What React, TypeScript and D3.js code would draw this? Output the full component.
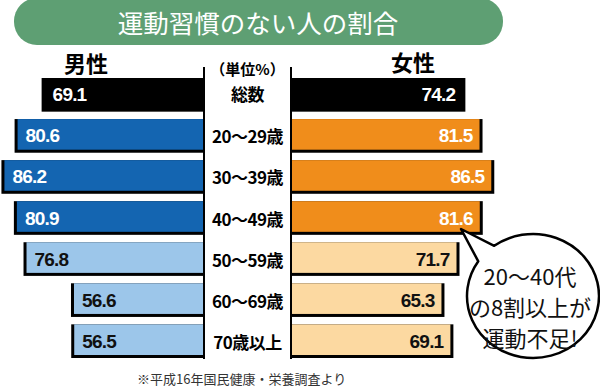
import React from "react";
import * as d3 from "d3";

const width = 600;
const height = 387;

// data (percent)
const categories = ["総数", "20〜29歳", "30〜39歳", "40〜49歳", "50〜59歳", "60〜69歳", "70歳以上"];
const maleValues = [69.1, 80.6, 86.2, 80.9, 76.8, 56.6, 56.5];
const femaleValues = [74.2, 81.5, 86.5, 81.6, 71.7, 65.3, 69.1];
const bubbleLines = ["20〜40代", "の8割以上が", "運動不足!"];

const title = "運動習慣のない人の割合";
const unitLabel = "（単位%）";
const note = "※平成16年国民健康・栄養調査より";

const leftAxisX = 204;
const rightAxisX = 291;
const centerX = (leftAxisX + rightAxisX) / 2;
const jpFont = "'Noto Sans CJK JP', 'Noto Sans', sans-serif";
const numFont = "'Liberation Sans', Arial, sans-serif";

const maleColor = (i: number) => (i === 0 ? "#000000" : i <= 3 ? "#1465b1" : "#9cc6ea");
const femaleColor = (i: number) => (i === 0 ? "#000000" : i <= 3 ? "#f08d1b" : "#fcd9a1");
const textColor = (i: number) => (i <= 3 ? "#ffffff" : "#111111");

function Bubble() {
  const cx = 533, cy = 296, rx = 66, ry = 62;
  const pt = (deg: number) => {
    const a = (deg * Math.PI) / 180;
    return [cx + rx * Math.cos(a), cy + ry * Math.sin(a)];
  };
  const a = pt(234);
  const b = pt(214);
  const tip = [461, 229];
  const d = `M${a[0]},${a[1]} A${rx},${ry} 0 1 1 ${b[0]},${b[1]} L${tip[0]},${tip[1]} Z`;
  return (
    <g>
      <path d={d} fill="#fff" stroke="#000" strokeWidth={2.5} strokeLinejoin="round" />
      {bubbleLines.map((t, i) => (
        <text
          key={i}
          x={cx - 3}
          y={275 + i * 31}
          textAnchor="middle"
          dominantBaseline="central"
          fontFamily={jpFont}
          fontSize={22}
          fill="#111"
        >
          {t}
        </text>
      ))}
    </g>
  );
}

export default function App() {
  const x = d3.scaleLinear().domain([0, 100]).range([0, 235]);
  const y = d3
    .scaleBand<string>()
    .domain(categories)
    .range([78, 358])
    .paddingInner(0.18)
    .paddingOuter(0);
  const bh = y.bandwidth();
  const edge = 3;

  return (
    <svg width={width} height={height} style={{ position: "absolute", left: 0, top: 0, background: "#fff" }}>
      {/* title pill */}
      <rect x={14} y={-2} width={489} height={47} rx={23} fill="#5e9f73" />
      <text
        x={258}
        y={21}
        textAnchor="middle"
        dominantBaseline="central"
        fontFamily={jpFont}
        fontSize={25.5}
        fill="#fff"
      >
        {title}
      </text>

      {/* headers */}
      <text x={86} y={62} textAnchor="middle" dominantBaseline="central" fontFamily={jpFont} fontWeight={700} fontSize={22} fill="#000">
        男性
      </text>
      <text x={413} y={61} textAnchor="middle" dominantBaseline="central" fontFamily={jpFont} fontWeight={700} fontSize={22} fill="#000">
        女性
      </text>
      <text x={centerX} y={68} textAnchor="middle" dominantBaseline="central" fontFamily={jpFont} fontWeight={700} fontSize={15} fill="#000">
        {unitLabel}
      </text>

      {/* male bars */}
      {maleValues.map((v, i) => {
        const top = y(categories[i])!;
        const w = x(v);
        const left = leftAxisX - w;
        return (
          <g key={"m" + i}>
            <rect x={left} y={top} width={w} height={bh} fill="#000" />
            <rect x={left + edge} y={top} width={w - edge} height={bh - edge} fill={maleColor(i)} />
            <text
              x={left + 11}
              y={top + bh / 2}
              dominantBaseline="central"
              fontFamily={numFont}
              fontWeight={700}
              fontSize={19}
              letterSpacing={-0.8}
              fill={textColor(i)}
            >
              {v.toFixed(1)}
            </text>
          </g>
        );
      })}

      {/* female bars */}
      {femaleValues.map((v, i) => {
        const top = y(categories[i])!;
        const w = x(v);
        return (
          <g key={"f" + i}>
            <rect x={rightAxisX} y={top} width={w} height={bh} fill="#000" />
            <rect x={rightAxisX} y={top} width={w - edge} height={bh - edge} fill={femaleColor(i)} />
            <text
              x={rightAxisX + w - 10}
              y={top + bh / 2}
              textAnchor="end"
              dominantBaseline="central"
              fontFamily={numFont}
              fontWeight={700}
              fontSize={19}
              letterSpacing={-0.8}
              fill={textColor(i)}
            >
              {v.toFixed(1)}
            </text>
          </g>
        );
      })}

      {/* center axis lines */}
      <line x1={leftAxisX} x2={leftAxisX} y1={67} y2={359} stroke="#000" strokeWidth={2} />
      <line x1={rightAxisX} x2={rightAxisX} y1={67} y2={359} stroke="#000" strokeWidth={2} />

      {/* category labels */}
      {categories.map((c, i) => (
        <text
          key={c}
          x={centerX}
          y={i === 0 ? 93 : y(c)! + bh / 2}
          textAnchor="middle"
          dominantBaseline="central"
          fontFamily={jpFont}
          fontWeight={700}
          fontSize={17}
          letterSpacing={-0.5}
          fill="#000"
        >
          {c}
        </text>
      ))}

      <Bubble />

      <text x={137} y={378} dominantBaseline="central" fontFamily={jpFont} fontSize={13} fill="#333">
        {note}
      </text>
    </svg>
  );
}
